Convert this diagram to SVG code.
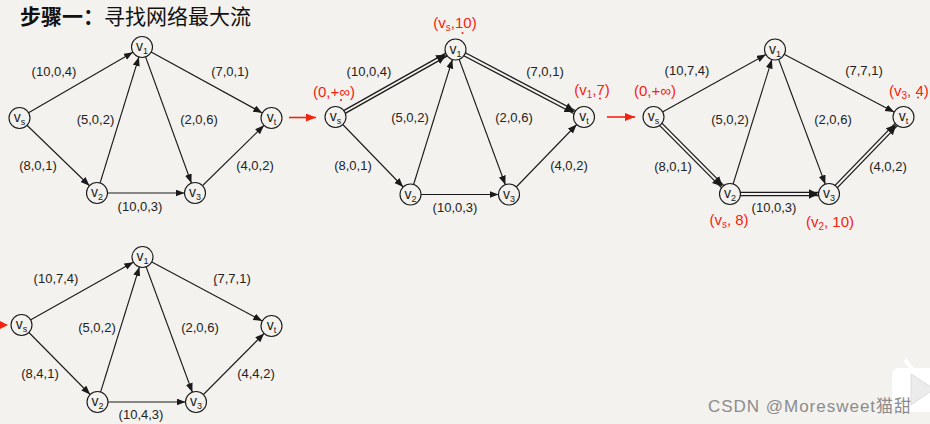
<svg xmlns="http://www.w3.org/2000/svg" width="930" height="424" viewBox="0 0 930 424">
<defs>
<style>
.edge{stroke:#1a1a1a;stroke-width:1.1;fill:none;marker-end:url(#arr)}
.dbl{stroke:#1a1a1a;stroke-width:4.6;fill:none}
.dbli{stroke:#f3f2ee;stroke-width:2;fill:none;marker-end:url(#arr2)}
.red{stroke:#f5220f;stroke-width:1.6;fill:none;marker-end:url(#arrR)}
.node circle{fill:#f3f2ee;stroke:#1a1a1a;stroke-width:1.1}
.node text{font-family:"Liberation Sans",Arial,sans-serif;font-size:14px;fill:#1a1a1a;text-anchor:middle}
.sub{font-size:9px}
.lbl{font-family:"Liberation Sans",Arial,sans-serif;font-size:13px;fill:#222;text-anchor:middle}
.rl{font-family:"Liberation Sans",Arial,sans-serif;font-size:15px;fill:#f5220f;text-anchor:middle}
.rsub{font-size:10px}
.dot{fill:#f5220f}
</style>
<marker id="arr" markerUnits="userSpaceOnUse" markerWidth="10" markerHeight="8" refX="19.5" refY="3.5" orient="auto"><path d="M0,0 L9,3.5 L0,7 z" fill="#1a1a1a"/></marker>
<marker id="arr2" markerUnits="userSpaceOnUse" markerWidth="11" markerHeight="11" refX="20.5" refY="5" orient="auto"><path d="M0,0 L10,5 L0,10 z" fill="#1a1a1a"/></marker>
<marker id="arrR" markerUnits="userSpaceOnUse" markerWidth="11" markerHeight="9" refX="10" refY="4" orient="auto"><path d="M0,0 L10,4 L0,8 z" fill="#f5220f"/></marker>
</defs>
<rect x="0" y="0" width="930" height="424" fill="#f3f2ee"/>
<text x="20" y="24" font-family="'Noto Sans CJK SC',sans-serif" font-size="21" fill="#111"><tspan font-weight="bold">步骤一：</tspan>寻找网络最大流</text>

<g id="connectors">
<!-- graph 1 -->
<line class="edge" x1="19.5" y1="118" x2="142" y2="47"/>
<line class="edge" x1="19.5" y1="118" x2="97" y2="193"/>
<line class="edge" x1="97" y1="193" x2="142" y2="47"/>
<line class="edge" x1="142" y1="47" x2="195" y2="193"/>
<line class="edge" x1="142" y1="47" x2="271.5" y2="118"/>
<line class="edge" x1="97" y1="193" x2="195" y2="193"/>
<line class="edge" x1="195" y1="193" x2="271.5" y2="118"/>
<!-- graph 2 -->
<line class="dbl" x1="335.5" y1="117" x2="455.5" y2="49.5"/>
<line class="dbli" x1="335.5" y1="117" x2="455.5" y2="49.5"/>
<line class="edge" x1="335.5" y1="117" x2="410.5" y2="194.5"/>
<line class="edge" x1="410.5" y1="194.5" x2="455.5" y2="49.5"/>
<line class="edge" x1="455.5" y1="49.5" x2="509" y2="194.5"/>
<line class="dbl" x1="455.5" y1="49.5" x2="584" y2="117"/>
<line class="dbli" x1="455.5" y1="49.5" x2="584" y2="117"/>
<line class="edge" x1="410.5" y1="194.5" x2="509" y2="194.5"/>
<line class="edge" x1="509" y1="194.5" x2="584" y2="117"/>
<!-- graph 3 -->
<line class="edge" x1="653.5" y1="117" x2="775" y2="49.5"/>
<line class="dbl" x1="653.5" y1="117" x2="730" y2="194"/>
<line class="dbli" x1="653.5" y1="117" x2="730" y2="194"/>
<line class="edge" x1="730" y1="194" x2="775" y2="49.5"/>
<line class="edge" x1="775" y1="49.5" x2="829" y2="194"/>
<line class="edge" x1="775" y1="49.5" x2="903.5" y2="117"/>
<line class="dbl" x1="730" y1="194" x2="829" y2="194"/>
<line class="dbli" x1="730" y1="194" x2="829" y2="194"/>
<line class="dbl" x1="829" y1="194" x2="903.5" y2="117"/>
<line class="dbli" x1="829" y1="194" x2="903.5" y2="117"/>
<!-- graph 4 -->
<line class="edge" x1="21.5" y1="325" x2="142.5" y2="257"/>
<line class="edge" x1="21.5" y1="325" x2="97.5" y2="402"/>
<line class="edge" x1="97.5" y1="402" x2="142.5" y2="257"/>
<line class="edge" x1="142.5" y1="257" x2="196" y2="402"/>
<line class="edge" x1="142.5" y1="257" x2="271.5" y2="326"/>
<line class="edge" x1="97.5" y1="402" x2="196" y2="402"/>
<line class="edge" x1="196" y1="402" x2="271.5" y2="326"/>
<!-- red step arrows -->
<line class="red" x1="289" y1="117.5" x2="316" y2="117.5"/>
<line class="red" x1="607" y1="117" x2="635" y2="117"/>
<path d="M0,321 L8,325 L0,329 z" fill="#f5220f"/>
</g>

<!-- graph 1 nodes -->
<g id="g1-vs" class="node"><circle cx="19.5" cy="118" r="10.5"/><text x="19.5" y="122">v<tspan class="sub" dy="3">s</tspan></text></g>
<g id="g1-v1" class="node"><circle cx="142" cy="47" r="10.5"/><text x="142" y="51">v<tspan class="sub" dy="3">1</tspan></text></g>
<g id="g1-vt" class="node"><circle cx="271.5" cy="118" r="10.5"/><text x="271.5" y="122">v<tspan class="sub" dy="3">t</tspan></text></g>
<g id="g1-v2" class="node"><circle cx="97" cy="193" r="10.5"/><text x="97" y="197">v<tspan class="sub" dy="3">2</tspan></text></g>
<g id="g1-v3" class="node"><circle cx="195" cy="193" r="10.5"/><text x="195" y="197">v<tspan class="sub" dy="3">3</tspan></text></g>
<g id="g1-labels">
<text class="lbl" x="54" y="76">(10,0,4)</text>
<text class="lbl" x="230" y="76">(7,0,1)</text>
<text class="lbl" x="95.5" y="123.5">(5,0,2)</text>
<text class="lbl" x="199" y="123.5">(2,0,6)</text>
<text class="lbl" x="38" y="170">(8,0,1)</text>
<text class="lbl" x="255" y="170">(4,0,2)</text>
<text class="lbl" x="140" y="211">(10,0,3)</text>
</g>

<!-- graph 2 nodes -->
<g id="g2-vs" class="node"><circle cx="335.5" cy="117" r="10.5"/><text x="335.5" y="121">v<tspan class="sub" dy="3">s</tspan></text></g>
<g id="g2-v1" class="node"><circle cx="455.5" cy="49.5" r="10.5"/><text x="455.5" y="53.5">v<tspan class="sub" dy="3">1</tspan></text></g>
<g id="g2-vt" class="node"><circle cx="584" cy="117" r="10.5"/><text x="584" y="121">v<tspan class="sub" dy="3">t</tspan></text></g>
<g id="g2-v2" class="node"><circle cx="410.5" cy="194.5" r="10.5"/><text x="410.5" y="198.5">v<tspan class="sub" dy="3">2</tspan></text></g>
<g id="g2-v3" class="node"><circle cx="509" cy="194.5" r="10.5"/><text x="509" y="198.5">v<tspan class="sub" dy="3">3</tspan></text></g>
<g id="g2-labels">
<text class="lbl" x="369" y="76">(10,0,4)</text>
<text class="lbl" x="545" y="76">(7,0,1)</text>
<text class="lbl" x="410" y="122">(5,0,2)</text>
<text class="lbl" x="514" y="122">(2,0,6)</text>
<text class="lbl" x="353" y="170">(8,0,1)</text>
<text class="lbl" x="569" y="170">(4,0,2)</text>
<text class="lbl" x="455" y="212">(10,0,3)</text>
<text class="rl" x="455" y="28">(v<tspan class="rsub" dy="3">s</tspan><tspan dy="-3">,10)</tspan></text>
<text class="rl" x="334" y="96.5">(0,+∞)</text>
<text class="rl" x="592" y="95">(v<tspan class="rsub" dy="3">1</tspan><tspan dy="-3">,7)</tspan></text>
<circle class="dot" cx="462.5" cy="33" r="1"/>
<circle class="dot" cx="341" cy="100" r="1"/>
<circle class="dot" cx="600" cy="98.5" r="1"/>
</g>

<!-- graph 3 nodes -->
<g id="g3-vs" class="node"><circle cx="653.5" cy="117" r="10.5"/><text x="653.5" y="121">v<tspan class="sub" dy="3">s</tspan></text></g>
<g id="g3-v1" class="node"><circle cx="775" cy="49.5" r="10.5"/><text x="775" y="53.5">v<tspan class="sub" dy="3">1</tspan></text></g>
<g id="g3-vt" class="node"><circle cx="903.5" cy="117" r="10.5"/><text x="903.5" y="121">v<tspan class="sub" dy="3">t</tspan></text></g>
<g id="g3-v2" class="node"><circle cx="730" cy="194" r="10.5"/><text x="730" y="198">v<tspan class="sub" dy="3">2</tspan></text></g>
<g id="g3-v3" class="node"><circle cx="829" cy="194" r="10.5"/><text x="829" y="198">v<tspan class="sub" dy="3">3</tspan></text></g>
<g id="g3-labels">
<text class="lbl" x="687" y="75">(10,7,4)</text>
<text class="lbl" x="864" y="75">(7,7,1)</text>
<text class="lbl" x="730" y="123.5">(5,0,2)</text>
<text class="lbl" x="833" y="123.5">(2,0,6)</text>
<text class="lbl" x="673" y="171">(8,0,1)</text>
<text class="lbl" x="888" y="171">(4,0,2)</text>
<text class="lbl" x="774" y="211.5">(10,0,3)</text>
<text class="rl" x="655" y="95.5">(0,+∞)</text>
<text class="rl" x="889" y="96" style="text-anchor:start">(v<tspan class="rsub" dy="3">3</tspan><tspan dy="-3">, 4)</tspan></text>
<text class="rl" x="729" y="225">(v<tspan class="rsub" dy="3">s</tspan><tspan dy="-3">, 8)</tspan></text>
<text class="rl" x="830" y="226.5">(v<tspan class="rsub" dy="3">2</tspan><tspan dy="-3">, 10)</tspan></text>
<circle class="dot" cx="918" cy="97.5" r="0.9"/>
</g>

<!-- graph 4 nodes -->
<g id="g4-vs" class="node"><circle cx="21.5" cy="325" r="10.5"/><text x="21.5" y="329">v<tspan class="sub" dy="3">s</tspan></text></g>
<g id="g4-v1" class="node"><circle cx="142.5" cy="257" r="10.5"/><text x="142.5" y="261">v<tspan class="sub" dy="3">1</tspan></text></g>
<g id="g4-vt" class="node"><circle cx="271.5" cy="326" r="10.5"/><text x="271.5" y="330">v<tspan class="sub" dy="3">t</tspan></text></g>
<g id="g4-v2" class="node"><circle cx="97.5" cy="402" r="10.5"/><text x="97.5" y="406">v<tspan class="sub" dy="3">2</tspan></text></g>
<g id="g4-v3" class="node"><circle cx="196" cy="402" r="10.5"/><text x="196" y="406">v<tspan class="sub" dy="3">3</tspan></text></g>
<g id="g4-labels">
<text class="lbl" x="56" y="282.5">(10,7,4)</text>
<text class="lbl" x="232" y="282.5">(7,7,1)</text>
<text class="lbl" x="97" y="331.5">(5,0,2)</text>
<text class="lbl" x="200" y="331.5">(2,0,6)</text>
<text class="lbl" x="40" y="377.5">(8,4,1)</text>
<text class="lbl" x="256" y="377.5">(4,4,2)</text>
<text class="lbl" x="141" y="419">(10,4,3)</text>
<circle class="dot" cx="215" cy="285" r="1"/>
</g>

<!-- watermark -->
<g id="watermark">
<line x1="906" y1="361" x2="912" y2="369" stroke="#ffffff" stroke-width="4" stroke-linecap="round"/>
<rect x="892" y="368" width="50" height="44" rx="7" fill="#ffffff"/>
<path d="M911,374 L934,389 L911,405 z" fill="#ececec" stroke="#dcdcdc" stroke-width="1"/>
<text x="708" y="412" font-family="'Liberation Sans','Noto Sans CJK SC',sans-serif" font-size="17" fill="#8c8c8c" textLength="203" lengthAdjust="spacing">CSDN @Moresweet猫甜</text>
</g>
</svg>
